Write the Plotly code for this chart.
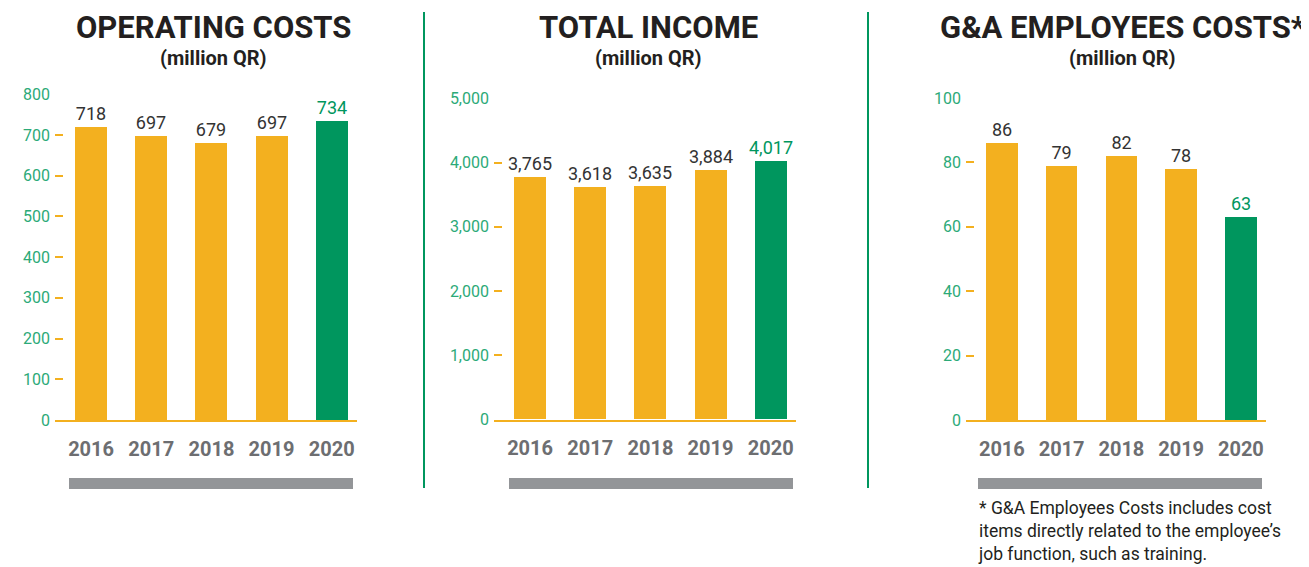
import plotly.graph_objects as go

W, H = 1309, 567

years = ["2016", "2017", "2018", "2019", "2020"]
operating_costs = [718, 697, 679, 697, 734]
total_income = [3765, 3618, 3635, 3884, 4017]
ga_costs = [86, 79, 82, 78, 63]

titles = ["OPERATING COSTS", "TOTAL INCOME", "G&A EMPLOYEES COSTS*"]
subtitle = "(million QR)"
footnote = ("* G&A Employees Costs includes cost<br>"
            "items directly related to the employee’s<br>"
            "job function, such as training.")

YELLOW = "#F3B01F"
GREEN = "#00965E"
TICKGREEN = "#2CAA78"
DARK = "#333333"
GRAY_TXT = "#6D6E71"
GRAY_BAR = "#939598"
FONT = "Roboto"

# page body has an 8px margin; compensate so picture coordinates line up
OFF = 8

def px(x):
    return (x - OFF) / W

def py(y):
    return 1 - (y - OFF) / H

panels = [
    dict(vals=operating_costs, xd=(55, 357), yd=(420, 94.3), rng=800, dtick=100,
         fmt="%{y}", tfmt="", title_x=213, gbar=(69, 353)),
    dict(vals=total_income, xd=(494, 796), yd=(419.5, 98.3), rng=5000, dtick=1000,
         fmt="%{y:,}", tfmt=",", title_x=648, gbar=(509, 793)),
    dict(vals=ga_costs, xd=(966, 1266), yd=(420, 98), rng=100, dtick=20,
         fmt="%{y}", tfmt="", title_x=1122, gbar=(978, 1262)),
]

fig = go.Figure()
layout = dict(width=W, height=H,
              margin=dict(l=0, r=0, t=0, b=0, pad=0, autoexpand=False),
              paper_bgcolor="white", plot_bgcolor="white", showlegend=False,
              font=dict(family=FONT), bargap=0)
annotations = []
shapes = []

for i, p in enumerate(panels):
    n = "" if i == 0 else str(i + 1)
    colors = [YELLOW] * (len(years) - 1) + [GREEN]
    tcolors = [DARK] * (len(years) - 1) + [GREEN]
    fig.add_trace(go.Bar(
        x=years, y=p["vals"], xaxis="x" + n, yaxis="y" + n,
        marker=dict(color=colors, line=dict(width=0)), width=0.53,
        texttemplate=p["fmt"], textposition="outside", constraintext="none",
        textfont=dict(family=FONT, size=18, color=tcolors), cliponaxis=False,
        hoverinfo="skip"))
    layout["xaxis" + n] = dict(
        domain=[px(p["xd"][0]), px(p["xd"][1])], anchor="y" + n,
        range=[-0.6, 4.42], type="category", showgrid=False, zeroline=False,
        showline=True, linecolor=YELLOW, linewidth=1.5, ticks="",
        tickfont=dict(family=FONT, size=20, color=GRAY_TXT, weight="bold"),
        ticklabelstandoff=10, fixedrange=True)
    layout["yaxis" + n] = dict(
        domain=[py(p["yd"][0]), py(p["yd"][1])], anchor="x" + n,
        range=[0, p["rng"]], dtick=p["dtick"], tickformat=p["tfmt"],
        showgrid=False, zeroline=False, showline=False,
        ticks="inside", ticklen=8, tickwidth=1.5, tickcolor=YELLOW,
        tickfont=dict(family=FONT, size=16, color=TICKGREEN),
        ticklabelstandoff=4, fixedrange=True)
    annotations.append(dict(
        x=px(p["title_x"]), y=py(27), xref="paper", yref="paper",
        text=titles[i], showarrow=False, xanchor="center", yanchor="middle",
        font=dict(family=FONT, size=31, color="#231F20", weight="bold")))
    annotations.append(dict(
        x=px(p["title_x"]), y=py(58), xref="paper", yref="paper",
        text=subtitle, showarrow=False, xanchor="center", yanchor="middle",
        font=dict(family=FONT, size=20, color="#231F20", weight="bold")))
    shapes.append(dict(type="rect", xref="paper", yref="paper",
                       x0=px(p["gbar"][0]), x1=px(p["gbar"][1]),
                       y0=py(489), y1=py(478), fillcolor=GRAY_BAR,
                       line=dict(width=0), layer="below"))

for sx in (424, 868):
    shapes.append(dict(type="line", xref="paper", yref="paper",
                       x0=px(sx), x1=px(sx), y0=py(488), y1=py(12),
                       line=dict(color=GREEN, width=2)))

annotations.append(dict(
    x=px(976), y=py(566), xref="paper", yref="paper", text=footnote,
    showarrow=False, xanchor="left", yanchor="bottom", align="left",
    font=dict(family=FONT, size=17.5, color="#231F20")))

layout["annotations"] = annotations
layout["shapes"] = shapes
fig.update_layout(**layout)
fig.write_html("out.html")
